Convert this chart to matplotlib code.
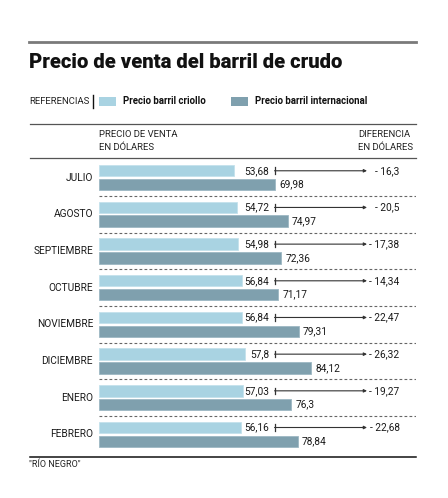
import matplotlib
matplotlib.use("Agg")
import matplotlib.pyplot as plt
from matplotlib.transforms import blended_transform_factory
from matplotlib.patches import Rectangle

months = ["JULIO", "AGOSTO", "SEPTIEMBRE", "OCTUBRE", "NOVIEMBRE", "DICIEMBRE", "ENERO", "FEBRERO"]
criollo = [53.68, 54.72, 54.98, 56.84, 56.84, 57.8, 57.03, 56.16]
internacional = [69.98, 74.97, 72.36, 71.17, 79.31, 84.12, 76.3, 78.84]
diferencia = ["- 16,3", "- 20,5", "- 17,38", "- 14,34", "- 22,47", "- 26,32", "- 19,27", "- 22,68"]

def fmt(v):
    s = ("%.2f" % v).rstrip("0").rstrip(".")
    return s.replace(".", ",")

C_LIGHT = "#a9d3e2"
C_DARK = "#7fa0ae"
FAM = ["Liberation Sans Narrow", "Roboto", "DejaVu Sans"]
FAMB = ["Roboto", "DejaVu Sans"]

W, H = 448, 498
fig = plt.figure(figsize=(W / 100, H / 100), dpi=100)
fig.patch.set_facecolor("white")

def fx(px):
    return px / W

def fy(py):
    return 1 - py / H

def hline(y, x0, x1, color, lw, ls="-"):
    fig.add_artist(plt.Line2D([fx(x0), fx(x1)], [fy(y), fy(y)], color=color, lw=lw, ls=ls,
                              transform=fig.transFigure))

# top rule and title
hline(42.5, 29, 416, "#7a7a7a", 2.0)
fig.text(fx(28.5), fy(63), "Precio de venta del barril de crudo", family=FAMB, weight="heavy",
         fontsize=14.6, color="#111111", va="center", ha="left")

# legend row
ly = 101.5
fig.text(fx(29), fy(ly), "REFERENCIAS", family=FAM, fontsize=6.8, color="#222222", va="center")
fig.add_artist(plt.Line2D([fx(92.5), fx(92.5)], [fy(95), fy(108)], color="#111111", lw=1.0,
                          transform=fig.transFigure))
fig.add_artist(Rectangle((fx(99), fy(106)), fx(17), 9 / H, facecolor=C_LIGHT, edgecolor="none",
                         transform=fig.transFigure))
fig.text(fx(123), fy(ly), "Precio barril criollo", family=FAMB, weight="bold", fontsize=6.9,
         color="#111111", va="center")
fig.add_artist(Rectangle((fx(231), fy(106)), fx(17), 9 / H, facecolor=C_DARK, edgecolor="none",
                         transform=fig.transFigure))
fig.text(fx(255), fy(ly), "Precio barril internacional", family=FAMB, weight="bold", fontsize=6.9,
         color="#111111", va="center")

# header
hline(124.5, 30, 416, "#555555", 0.9)
fig.text(fx(99), fy(134.5), "PRECIO DE VENTA", family=FAM, fontsize=6.8, color="#222222", va="center")
fig.text(fx(99), fy(147.5), "EN DÓLARES", family=FAM, fontsize=6.8, color="#222222", va="center")
fig.text(fx(358), fy(134.5), "DIFERENCIA", family=FAM, fontsize=6.8, color="#222222", va="center")
fig.text(fx(358), fy(147.5), "EN DÓLARES", family=FAM, fontsize=6.8, color="#222222", va="center")
hline(158.3, 30, 416, "#555555", 0.9)

# bars axes
ax_top, ax_bot = 159.3, 452.7
ax = fig.add_axes([fx(99), fy(ax_bot), fx(416 - 99), (ax_bot - ax_top) / H])
ax.set_xlim(0, (416 - 99) / 2.52)
ax.set_ylim(len(months) - 0.5, -0.5)
ax.axis("off")

ys = list(range(len(months)))
off = 0.187
bh = 0.31
ax.barh([y - off for y in ys], criollo, height=bh, color=C_LIGHT, edgecolor="#c4e2ec", lw=0.6)
ax.barh([y + off for y in ys], internacional, height=bh, color=C_DARK, edgecolor="#9db8c3", lw=0.6)

for y in ys[:-1]:
    ax.axhline(y + 0.5, xmin=0, xmax=1, color="#666666", lw=0.8, ls=(0, (2.5, 2)))

tr = blended_transform_factory(fig.transFigure, ax.transData)
for y, c, i, d, m in zip(ys, criollo, internacional, diferencia, months):
    ax.text(fx(93), y, m, family=FAM, fontsize=7.3, color="#1a1a1a", ha="right", va="center",
            transform=tr)
    ax.text(fx(269), y - off, fmt(c), family=FAM, fontsize=7.3, color="#1a1a1a", ha="right",
            va="center", transform=tr)
    ax.annotate(fmt(i), xy=(i, y + off), xytext=(3, 0), textcoords="offset points",
                family=FAM, fontsize=7.3, color="#1a1a1a", ha="left", va="center")
    # bracket + arrow
    ax.add_line(plt.Line2D([fx(274.5), fx(274.5)], [y - off - 0.09, y - off + 0.09], color="#333333",
                           lw=0.9, transform=tr))
    ax.annotate("", xy=(fx(367), y - off), xytext=(fx(274.5), y - off), xycoords=tr, textcoords=tr,
                arrowprops=dict(arrowstyle="-|>", color="#333333", lw=0.8,
                                mutation_scale=4.5, shrinkA=0, shrinkB=0))
    ax.text(fx(399.5), y - off, d, family=FAM, fontsize=7.3, color="#1a1a1a", ha="right",
            va="center", transform=tr)

# bottom rule and footer
hline(456.5, 30, 416, "#111111", 1.1)
fig.text(fx(29), fy(464.5), '"RÍO NEGRO"', family=FAM, fontsize=6.5, color="#222222", va="center")

fig.savefig("out.png", dpi=100, facecolor="white")
